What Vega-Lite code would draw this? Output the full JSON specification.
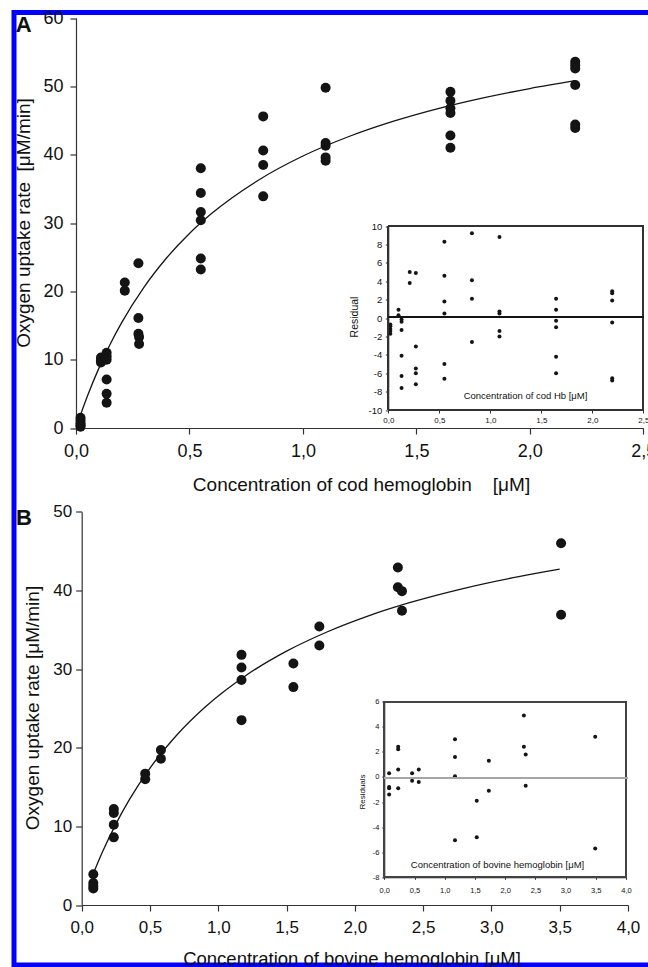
{
  "$schema": "https://vega.github.io/schema/vega-lite/v6.json",
  "width": 641,
  "height": 952.5,
  "autosize": {"type": "none"},
  "padding": {"left": 14, "top": 12.5, "right": -7, "bottom": 2},
  "background": "white",
  "config": {
    "view": {"stroke": "#0000ff", "strokeWidth": 5},
    "font": "Liberation Sans",
    "axis": {
      "grid": false,
      "labelFont": "Liberation Sans",
      "titleFont": "Liberation Sans",
      "titleFontWeight": "normal",
      "labelFlush": false,
      "labelOverlap": false,
      "labelBound": false,
      "domainColor": "#333333",
      "tickColor": "#333333",
      "labelColor": "#111111",
      "titleColor": "#111111",
      "titleAlign": "center",
      "titleBaseline": "alphabetic"
    }
  },
  "datasets": {
    "mainA": [
      {"conc": 0.02, "rate": 1.5}, {"conc": 0.02, "rate": 1.1}, {"conc": 0.02, "rate": 0.7}, {"conc": 0.02, "rate": 0.4}, {"conc": 0.02, "rate": 0.2},
      {"conc": 0.11, "rate": 10.3}, {"conc": 0.11, "rate": 9.9}, {"conc": 0.11, "rate": 9.6},
      {"conc": 0.135, "rate": 11.0}, {"conc": 0.135, "rate": 10.5}, {"conc": 0.135, "rate": 10.0}, {"conc": 0.135, "rate": 7.1}, {"conc": 0.135, "rate": 5.0}, {"conc": 0.135, "rate": 3.7},
      {"conc": 0.215, "rate": 21.3}, {"conc": 0.215, "rate": 20.1},
      {"conc": 0.275, "rate": 24.1}, {"conc": 0.275, "rate": 16.1}, {"conc": 0.275, "rate": 13.8}, {"conc": 0.278, "rate": 13.3}, {"conc": 0.278, "rate": 12.3},
      {"conc": 0.55, "rate": 38.0}, {"conc": 0.55, "rate": 34.4}, {"conc": 0.55, "rate": 31.6}, {"conc": 0.55, "rate": 30.4}, {"conc": 0.55, "rate": 24.8}, {"conc": 0.55, "rate": 23.2},
      {"conc": 0.825, "rate": 45.6}, {"conc": 0.825, "rate": 40.6}, {"conc": 0.825, "rate": 38.5}, {"conc": 0.825, "rate": 33.9},
      {"conc": 1.1, "rate": 49.8}, {"conc": 1.1, "rate": 41.7}, {"conc": 1.1, "rate": 41.3}, {"conc": 1.1, "rate": 39.6}, {"conc": 1.1, "rate": 39.1},
      {"conc": 1.65, "rate": 49.2}, {"conc": 1.65, "rate": 47.9}, {"conc": 1.65, "rate": 46.8}, {"conc": 1.65, "rate": 46.1}, {"conc": 1.65, "rate": 42.8}, {"conc": 1.65, "rate": 41.0},
      {"conc": 2.2, "rate": 53.6}, {"conc": 2.2, "rate": 53.1}, {"conc": 2.2, "rate": 52.6}, {"conc": 2.2, "rate": 50.2}, {"conc": 2.2, "rate": 44.4}, {"conc": 2.2, "rate": 43.9}
    ],
    "curveA": [
      {"conc": 0.02, "rate": 1.94}, {"conc": 0.05, "rate": 4.65}, {"conc": 0.1, "rate": 8.69}, {"conc": 0.15, "rate": 12.23},
      {"conc": 0.2, "rate": 15.35}, {"conc": 0.3, "rate": 20.63}, {"conc": 0.4, "rate": 24.92}, {"conc": 0.5, "rate": 28.47},
      {"conc": 0.6, "rate": 31.45}, {"conc": 0.8, "rate": 36.19}, {"conc": 1.0, "rate": 39.8}, {"conc": 1.2, "rate": 42.62},
      {"conc": 1.4, "rate": 44.9}, {"conc": 1.6, "rate": 46.78}, {"conc": 1.8, "rate": 48.35}, {"conc": 2.0, "rate": 49.68}, {"conc": 2.2, "rate": 50.83}
    ],
    "resA": [
      {"conc": 0.02, "res": -0.7}, {"conc": 0.02, "res": -0.9}, {"conc": 0.02, "res": -1.2}, {"conc": 0.02, "res": -1.4}, {"conc": 0.02, "res": -1.7},
      {"conc": 0.1, "res": 0.9}, {"conc": 0.1, "res": 0.3},
      {"conc": 0.13, "res": -0.15}, {"conc": 0.13, "res": -0.4}, {"conc": 0.13, "res": -1.3}, {"conc": 0.13, "res": -4.1}, {"conc": 0.13, "res": -6.3}, {"conc": 0.13, "res": -7.6},
      {"conc": 0.21, "res": 5.0}, {"conc": 0.21, "res": 3.8},
      {"conc": 0.27, "res": 4.9}, {"conc": 0.27, "res": -3.1}, {"conc": 0.27, "res": -5.5}, {"conc": 0.27, "res": -6.0}, {"conc": 0.27, "res": -7.2},
      {"conc": 0.55, "res": 8.3}, {"conc": 0.55, "res": 4.6}, {"conc": 0.55, "res": 1.8}, {"conc": 0.55, "res": 0.5}, {"conc": 0.55, "res": -5.0}, {"conc": 0.55, "res": -6.6},
      {"conc": 0.82, "res": 9.2}, {"conc": 0.82, "res": 4.1}, {"conc": 0.82, "res": 2.1}, {"conc": 0.82, "res": -2.6},
      {"conc": 1.09, "res": 8.8}, {"conc": 1.09, "res": 0.7}, {"conc": 1.09, "res": 0.5}, {"conc": 1.09, "res": -1.4}, {"conc": 1.09, "res": -2.0},
      {"conc": 1.645, "res": 2.1}, {"conc": 1.645, "res": 0.9}, {"conc": 1.645, "res": -0.3}, {"conc": 1.645, "res": -1.0}, {"conc": 1.645, "res": -4.2}, {"conc": 1.645, "res": -6.0},
      {"conc": 2.195, "res": 2.9}, {"conc": 2.195, "res": 2.7}, {"conc": 2.195, "res": 1.9}, {"conc": 2.195, "res": -0.5}, {"conc": 2.195, "res": -6.55}, {"conc": 2.195, "res": -6.8}
    ],
    "mainB": [
      {"conc": 0.085, "rate": 3.9}, {"conc": 0.085, "rate": 2.8}, {"conc": 0.085, "rate": 2.4}, {"conc": 0.085, "rate": 2.1},
      {"conc": 0.235, "rate": 12.2}, {"conc": 0.235, "rate": 11.7}, {"conc": 0.235, "rate": 10.2}, {"conc": 0.235, "rate": 8.6},
      {"conc": 0.465, "rate": 16.7}, {"conc": 0.465, "rate": 16.0},
      {"conc": 0.58, "rate": 19.7}, {"conc": 0.58, "rate": 18.6},
      {"conc": 1.17, "rate": 31.8}, {"conc": 1.17, "rate": 30.2}, {"conc": 1.17, "rate": 28.6}, {"conc": 1.17, "rate": 23.5},
      {"conc": 1.55, "rate": 30.7}, {"conc": 1.55, "rate": 27.7},
      {"conc": 1.74, "rate": 35.4}, {"conc": 1.74, "rate": 33.0},
      {"conc": 2.315, "rate": 42.9}, {"conc": 2.315, "rate": 40.4},
      {"conc": 2.345, "rate": 39.9}, {"conc": 2.345, "rate": 37.4},
      {"conc": 3.51, "rate": 46.0}, {"conc": 3.51, "rate": 36.9}
    ],
    "curveB": [
      {"conc": 0.085, "rate": 3.98}, {"conc": 0.15, "rate": 6.66}, {"conc": 0.25, "rate": 10.28}, {"conc": 0.35, "rate": 13.42},
      {"conc": 0.5, "rate": 17.4}, {"conc": 0.7, "rate": 21.68}, {"conc": 0.9, "rate": 25.11}, {"conc": 1.2, "rate": 29.15},
      {"conc": 1.5, "rate": 32.27}, {"conc": 1.8, "rate": 34.74}, {"conc": 2.1, "rate": 36.76}, {"conc": 2.4, "rate": 38.43},
      {"conc": 2.8, "rate": 40.26}, {"conc": 3.2, "rate": 41.75}, {"conc": 3.5, "rate": 42.7}
    ],
    "resB": [
      {"conc": 0.08, "res": 0.3}, {"conc": 0.08, "res": -0.8}, {"conc": 0.08, "res": -0.9}, {"conc": 0.08, "res": -1.4},
      {"conc": 0.23, "res": 2.4}, {"conc": 0.23, "res": 2.2}, {"conc": 0.23, "res": 0.6}, {"conc": 0.23, "res": -0.9},
      {"conc": 0.46, "res": 0.3}, {"conc": 0.46, "res": -0.3},
      {"conc": 0.57, "res": 0.6}, {"conc": 0.57, "res": -0.4},
      {"conc": 1.17, "res": 3.0}, {"conc": 1.17, "res": 1.6}, {"conc": 1.17, "res": 0.05}, {"conc": 1.17, "res": -5.05},
      {"conc": 1.53, "res": -1.9}, {"conc": 1.53, "res": -4.8},
      {"conc": 1.73, "res": 1.3}, {"conc": 1.73, "res": -1.1},
      {"conc": 2.31, "res": 4.9}, {"conc": 2.31, "res": 2.4},
      {"conc": 2.34, "res": 1.8}, {"conc": 2.34, "res": -0.7},
      {"conc": 3.49, "res": 3.2}, {"conc": 3.49, "res": -5.7}
    ],
    "labelA": [{"panel": "A"}],
    "labelB": [{"panel": "B"}]
  },
  "layer": [
    {
      "layer": [
        {
          "data": {"name": "mainA"},
          "mark": {"type": "circle", "size": 100, "opacity": 1, "color": "#141414"},
          "encoding": {
            "x": {"field": "conc", "type": "quantitative",
              "scale": {"domain": [0, 2.5], "range": [62, 629.3], "nice": false, "zero": false},
              "axis": {"orient": "bottom", "offset": -537, "values": [0, 0.5, 1, 1.5, 2, 2.5],
                "labelExpr": "replace(format(datum.value, '.1f'), '.', ',')",
                "tickSize": 6, "labelPadding": 8, "labelFontSize": 18, "domainWidth": 1.2, "tickWidth": 1.2,
                "title": "Concentration of cod hemoglobin \u00a0\u00a0\u00a0[μM]", "titleFontSize": 19, "titleX": 347, "titleY": 62}},
            "y": {"field": "rate", "type": "quantitative",
              "scale": {"domain": [0, 60], "range": [415.5, 5.5], "nice": false, "zero": false},
              "axis": {"orient": "left", "offset": -62, "values": [0, 10, 20, 30, 40, 50, 60],
                "tickSize": 6, "labelPadding": 7, "labelFontSize": 18, "domainWidth": 1.2, "tickWidth": 1.2,
                "title": "Oxygen uptake rate \u00a0[μM/min]", "titleFontSize": 19, "titleAngle": 270, "titleX": -46.7, "titleY": 210}}
          }
        },
        {
          "data": {"name": "curveA"},
          "mark": {"type": "line", "color": "#141414", "strokeWidth": 1.3, "interpolate": "monotone"},
          "encoding": {
            "x": {"field": "conc", "type": "quantitative"},
            "y": {"field": "rate", "type": "quantitative"}
          }
        },
        {
          "data": {"name": "labelA"},
          "mark": {"type": "text", "font": "Liberation Sans", "fontWeight": "bold", "fontSize": 22, "align": "left", "baseline": "alphabetic", "color": "#111111"},
          "encoding": {
            "x": {"datum": -0.265},
            "y": {"datum": 58.0},
            "text": {"field": "panel"}
          }
        }
      ]
    },
    {
      "layer": [
        {
          "data": {"name": "resA"},
          "mark": {"type": "circle", "size": 16, "opacity": 1, "color": "#141414"},
          "encoding": {
            "x": {"field": "conc", "type": "quantitative",
              "scale": {"domain": [0, 2.5], "range": [374.3, 629.3], "nice": false, "zero": false},
              "axis": {"orient": "bottom", "offset": -555, "values": [0, 0.5, 1, 1.5, 2, 2.5],
                "labelExpr": "replace(format(datum.value, '.1f'), '.', ',')",
                "tickSize": 3, "labelPadding": 3.5, "labelFontSize": 8,
                "title": "Concentration of cod Hb [μM]", "titleFontSize": 9.5, "titleX": 511, "titleY": -11.6}},
            "y": {"field": "res", "type": "quantitative",
              "scale": {"domain": [-10, 10], "range": [397.5, 213.5], "nice": false, "zero": false},
              "axis": {"orient": "left", "offset": -374.3, "values": [-10, -8, -6, -4, -2, 0, 2, 4, 6, 8, 10],
                "labelExpr": "'' + datum.value",
                "tickSize": 3, "labelPadding": 3.5, "labelFontSize": 9.5,
                "title": "Residual", "titleFontSize": 10.5, "titleAngle": 270, "titleX": -31.3, "titleY": 304}}
          }
        },
        {
          "data": {"name": "resA"},
          "mark": {"type": "rect", "fill": null, "stroke": "#333333", "strokeWidth": 1},
          "encoding": {
            "x": {"datum": 0},
            "x2": {"datum": 2.5},
            "y": {"datum": -10},
            "y2": {"datum": 10}
          }
        },
        {
          "data": {"name": "resA"},
          "mark": {"type": "rule", "color": "#141414", "strokeWidth": 1.4},
          "encoding": {
            "x": {"datum": 0},
            "x2": {"datum": 2.5},
            "y": {"datum": 0.1}
          }
        }
      ]
    },
    {
      "layer": [
        {
          "data": {"name": "mainB"},
          "mark": {"type": "circle", "size": 100, "opacity": 1, "color": "#141414"},
          "encoding": {
            "x": {"field": "conc", "type": "quantitative",
              "scale": {"domain": [0, 4], "range": [67.7, 614], "nice": false, "zero": false},
              "axis": {"orient": "bottom", "offset": -60, "values": [0, 0.5, 1, 1.5, 2, 2.5, 3, 3.5, 4],
                "labelExpr": "replace(format(datum.value, '.1f'), '.', ',')",
                "tickSize": 6, "labelPadding": 8.5, "labelFontSize": 17, "domainWidth": 1.2, "tickWidth": 1.2,
                "title": "Concentration of bovine hemoglobin [μM]", "titleFontSize": 18.5, "titleX": 337.5, "titleY": 59}},
            "y": {"field": "rate", "type": "quantitative",
              "scale": {"domain": [0, 50], "range": [892.5, 499.2], "nice": false, "zero": false},
              "axis": {"orient": "left", "offset": -67.7, "values": [0, 10, 20, 30, 40, 50],
                "tickSize": 6, "labelPadding": 4, "labelFontSize": 17, "domainWidth": 1.2, "tickWidth": 1.2,
                "title": "Oxygen uptake rate [μM/min]", "titleFontSize": 19, "titleAngle": 270, "titleX": -43.4, "titleY": 695}}
          }
        },
        {
          "data": {"name": "curveB"},
          "mark": {"type": "line", "color": "#141414", "strokeWidth": 1.3, "interpolate": "monotone"},
          "encoding": {
            "x": {"field": "conc", "type": "quantitative"},
            "y": {"field": "rate", "type": "quantitative"}
          }
        },
        {
          "data": {"name": "labelB"},
          "mark": {"type": "text", "font": "Liberation Sans", "fontWeight": "bold", "fontSize": 22, "align": "left", "baseline": "alphabetic", "color": "#111111"},
          "encoding": {
            "x": {"datum": -0.481},
            "y": {"datum": 48.3},
            "text": {"field": "panel"}
          }
        }
      ]
    },
    {
      "layer": [
        {
          "data": {"name": "resB"},
          "mark": {"type": "circle", "size": 16, "opacity": 1, "color": "#141414"},
          "encoding": {
            "x": {"field": "conc", "type": "quantitative",
              "scale": {"domain": [0, 4], "range": [370.3, 612], "nice": false, "zero": false},
              "axis": {"orient": "bottom", "offset": -87.7, "values": [0, 0.5, 1, 1.5, 2, 2.5, 3, 3.5, 4],
                "labelExpr": "replace(format(datum.value, '.1f'), '.', ',')",
                "tickSize": 2, "labelPadding": 7.5, "labelFontSize": 7.5,
                "title": "Concentration of bovine hemoglobin [μM]", "titleFontSize": 9.5, "titleX": 483, "titleY": -9.8}},
            "y": {"field": "res", "type": "quantitative",
              "scale": {"domain": [-8, 6], "range": [864.8, 689.2], "nice": false, "zero": false},
              "axis": {"orient": "left", "offset": -370.3, "values": [-8, -6, -4, -2, 0, 2, 4, 6],
                "labelExpr": "'' + datum.value",
                "tickSize": 2.5, "labelPadding": 3, "labelFontSize": 7.5,
                "title": "Residuals", "titleFontSize": 8, "titleAngle": 270, "titleX": -20.3, "titleY": 779}}
          }
        },
        {
          "data": {"name": "resB"},
          "mark": {"type": "rect", "fill": null, "stroke": "#444444", "strokeWidth": 1},
          "encoding": {
            "x": {"datum": 0},
            "x2": {"datum": 4},
            "y": {"datum": -8},
            "y2": {"datum": 6}
          }
        },
        {
          "data": {"name": "resB"},
          "mark": {"type": "rule", "color": "#a6a6a6", "strokeWidth": 1.6},
          "encoding": {
            "x": {"datum": 0},
            "x2": {"datum": 4.02},
            "y": {"datum": -0.1}
          }
        }
      ]
    }
  ],
  "resolve": {"scale": {"x": "independent", "y": "independent"}}
}
